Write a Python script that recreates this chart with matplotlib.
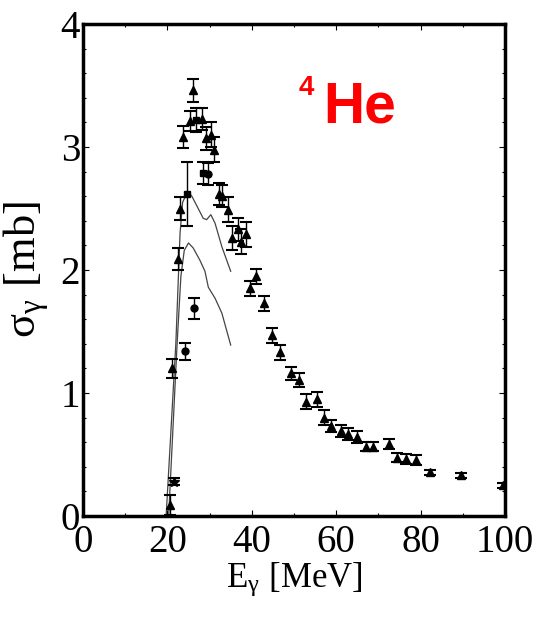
import matplotlib
matplotlib.use("Agg")
import matplotlib.pyplot as plt
from matplotlib.ticker import MultipleLocator

plt.rcParams['font.family'] = ['Liberation Serif', 'DejaVu Serif']
plt.rcParams['mathtext.fontset'] = 'stix'

# main data set (triangles): energy, cross section, error
tri_e = [20.6, 21.2, 22.6, 23.0, 23.8, 25.4, 26.1, 28.1, 29.1, 30.3, 31.1,
         32.3, 32.9, 34.3, 35.4, 36.7, 37.4, 38.6, 39.6, 40.9, 42.9, 44.8,
         46.8, 49.2, 51.2, 52.8, 55.4, 57.1, 58.8, 61.1, 62.9, 65.0, 67.1,
         68.8, 72.4, 74.3, 76.5, 78.8, 82.2, 89.5, 99.6]
tri_s = [0.09, 1.20, 2.09, 2.50, 3.08, 3.21, 3.46, 3.23, 3.07, 3.10, 2.98,
         2.62, 2.60, 2.49, 2.26, 2.33, 2.23, 2.29, 1.85, 1.95, 1.73, 1.47,
         1.33, 1.16, 1.105, 0.93, 0.95, 0.80, 0.73, 0.69, 0.665, 0.64, 0.565,
         0.565, 0.585, 0.475, 0.465, 0.455, 0.355, 0.33, 0.25]
tri_err = [0.08, 0.08, 0.09, 0.09, 0.09, 0.08, 0.09, 0.09, 0.09, 0.10, 0.10,
           0.09, 0.09, 0.10, 0.10, 0.09, 0.10, 0.10, 0.06, 0.06, 0.06, 0.06,
           0.06, 0.055, 0.06, 0.06, 0.06, 0.06, 0.05, 0.05, 0.05, 0.05, 0.04,
           0.04, 0.04, 0.04, 0.04, 0.04, 0.02, 0.02, 0.02]

# other measurements
sq_e = [24.6, 26.7, 28.5]
sq_s = [2.62, 3.22, 2.79]
sq_err = [0.26, 0.10, 0.09]

circ_e = [24.2, 26.3, 29.6]
circ_s = [1.34, 1.69, 2.78]
circ_err = [0.07, 0.085, 0.09]

star_e = [21.6]
star_s = [0.28]
star_err = [0.03]

# calculations
upper_e = [19.7, 22.0, 23.0, 23.6, 24.8, 25.8, 27.3, 28.5, 29.3, 30.3, 31.3, 32.9, 35.0]
upper_s = [0.0, 1.40, 2.30, 2.55, 2.64, 2.60, 2.50, 2.42, 2.41, 2.45, 2.38, 2.19, 1.99]
lower_e = [20.3, 22.3, 23.2, 24.0, 25.0, 26.1, 27.7, 28.9, 29.7, 31.3, 32.9, 35.0]
lower_s = [0.0, 1.40, 1.95, 2.16, 2.22, 2.18, 2.08, 1.99, 1.86, 1.77, 1.65, 1.39]

fig = plt.figure(figsize=(5.33, 6.17), dpi=100)
ax = fig.add_axes([0.1557, 0.1637, 0.7918, 0.7973])

ax.plot(upper_e, upper_s, color='#444444', lw=0.9)
ax.plot(lower_e, lower_s, color='#444444', lw=0.9)

ekw = dict(ls='none', color='black', ecolor='black', elinewidth=1.0,
           capsize=4, capthick=1.5)
ax.errorbar(tri_e, tri_s, yerr=tri_err, fmt='^', ms=5.5, **ekw)
ax.errorbar(sq_e, sq_s, yerr=sq_err, fmt='s', ms=5, **ekw)
ax.errorbar(circ_e, circ_s, yerr=circ_err, fmt='o', ms=5, **ekw)
ax.errorbar(star_e, star_s, yerr=star_err, fmt='*', ms=7, **ekw)

ax.set_xlim(0, 100)
ax.set_ylim(0, 4)
ax.xaxis.set_major_locator(MultipleLocator(20))
ax.xaxis.set_minor_locator(MultipleLocator(10))
ax.yaxis.set_major_locator(MultipleLocator(1))
ax.yaxis.set_minor_locator(MultipleLocator(0.2))
ax.tick_params(which='both', direction='in', top=True, right=True, width=0.8)
ax.tick_params(which='major', length=4)
ax.tick_params(which='minor', length=2.5)
ax.tick_params(axis='x', labelsize=28, pad=6)
ax.tick_params(axis='y', labelsize=28, pad=2)
for sp in ax.spines.values():
    sp.set_linewidth(2.5)

ax.set_xlabel(r'E$_{\mathregular{γ}}$ [MeV]', fontsize=25)
ax.xaxis.set_label_coords(0.5, -0.092)
ax.set_ylabel(r'σ$_{\mathregular{γ}}$ [mb]', fontsize=32)
ax.yaxis.set_label_coords(-0.075, 0.5)

ax.text(0.569, 0.799, 'He', transform=ax.transAxes, color='red',
        fontsize=41, fontweight='bold', family='Liberation Sans', va='baseline')
ax.text(0.511, 0.856, '4', transform=ax.transAxes, color='red',
        fontsize=20, fontweight='bold', family='Liberation Sans', va='baseline')

fig.savefig('out.png', dpi=100)
